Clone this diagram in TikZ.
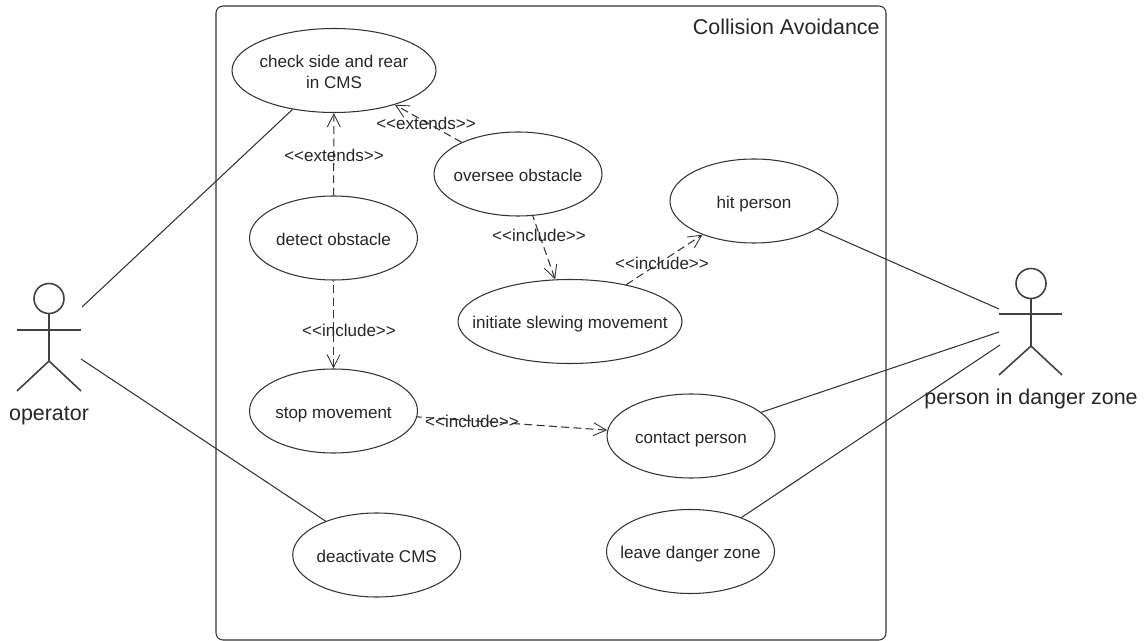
\documentclass[tikz,border=0pt]{standalone}
\usepackage{fontspec}
\setmainfont{Liberation Sans}
\usetikzlibrary{
    arrows.meta,
    shapes.geometric,
}

\begin{document}
\begin{tikzpicture}[x=0.02cm,y=-0.02cm,>={Straight Barb[length=2.6mm,width=2.6mm,line width=0.5pt]}]

    \tikzstyle{commonNode}=[font=\fontsize{9.7}{11.9}\selectfont, align=center, text=black!85]
    \tikzstyle{useCase}=[commonNode, ellipse, draw=black!80, line width=0.6pt, inner xsep=-70pt, inner ysep=0pt, minimum height=84*0.02cm, minimum width=168*0.02cm, text height=10.5pt, text depth=2pt]
    \tikzstyle{stereotype}=[commonNode, inner sep=0pt]
    \tikzstyle{actorName}=[font=\fontsize{12.2}{14}\selectfont, text=black!85, inner sep=0pt]
    \tikzstyle{actorLine}=[black!75, line width=0.9pt]
    \tikzstyle{head}=[circle, draw=black!75, line width=0.9pt, inner sep=0pt, minimum size=30*0.02cm]
    \tikzstyle{assoc}=[black!80, line width=0.6pt]
    \tikzstyle{depOut}=[black!80, line width=0.6pt, dash pattern=on 4.5pt off 2.5pt, ->]
    \tikzstyle{depIn}=[depOut, <-]

    \useasboundingbox (0,0) rectangle (1145,641);

    % System boundary
    \node at (880, 27) [anchor=east, font=\fontsize{12.2}{14}\selectfont, text=black!85, inner sep=0pt] (title) {Collision Avoidance};
    \draw[black!80, line width=0.6pt, rounded corners=4pt] (216,6) rectangle (886,640);

    % Actors
    \node at (49, 298.5) [head] (opHead) {};
    \coordinate (opHip) at (49, 361);
    \coordinate (opArmL) at (17, 330);
    \coordinate (opArmR) at (81, 330);
    \coordinate (opFootL) at (17, 391);
    \coordinate (opFootR) at (81, 391);
    \draw[actorLine] (opHead) -- (opHip);
    \draw[actorLine] (opArmL) -- (opArmR);
    \draw[actorLine] (opFootL) -- (opHip) -- (opFootR);
    \node at (49, 415.5) [actorName] (operator) {operator};

    \node at (1031, 283.5) [head] (dzHead) {};
    \coordinate (dzHip) at (1031, 346);
    \coordinate (dzArmL) at (999, 314);
    \coordinate (dzArmR) at (1062, 314);
    \coordinate (dzFootL) at (999, 375);
    \coordinate (dzFootR) at (1062, 375);
    \draw[actorLine] (dzHead) -- (dzHip);
    \draw[actorLine] (dzArmL) -- (dzArmR);
    \draw[actorLine] (dzFootL) -- (dzHip) -- (dzFootR);
    \node at (1031, 399) [actorName] (person) {person in danger zone};

    % Free ends of the associations
    \coordinate (opUp) at (82, 307);
    \coordinate (opDown) at (81, 359);
    \coordinate (dzHit) at (999, 309);
    \coordinate (dzContact) at (999, 332);
    \coordinate (dzLeave) at (1000, 345);

    % Use cases
    \node at (334, 70.5) [useCase, minimum width=204*0.02cm, text height=21pt, text depth=] (check) {check side and rear \\ in CMS}
        edge [assoc] (opUp);
    \node at (518, 174) [useCase] (oversee) {oversee obstacle}
        edge [depOut] (check);
    \node at (333.5, 238) [useCase] (detect) {detect obstacle}
        edge [depOut] (check);
    \node at (754, 201) [useCase] (hit) {hit person}
        edge [assoc] (dzHit);
    \node at (570, 321.5) [useCase, minimum width=224*0.02cm] (initiate) {initiate slewing movement}
        edge [depIn] (oversee)
        edge [depOut] (hit);
    \node at (333.5, 411) [useCase] (stop) {stop movement}
        edge [depIn] (detect);
    \node at (691, 436) [useCase] (contact) {contact person}
        edge [depIn] (stop)
        edge [assoc] (dzContact);
    \node at (690.5, 551.5) [useCase] (leave) {leave danger zone}
        edge [assoc] (dzLeave);
    \node at (376.7, 555) [useCase] (deactivate) {deactivate CMS}
        edge [assoc] (opDown);

    % Stereotypes
    \node at (334, 155) [stereotype] (extDetect) {<{}<extends>{}>};
    \node at (426, 123) [stereotype] (extOversee) {<{}<extends>{}>};
    \node at (539, 235) [stereotype] (incOversee) {<{}<include>{}>};
    \node at (662, 263) [stereotype] (incInitiate) {<{}<include>{}>};
    \node at (349, 330) [stereotype] (incDetect) {<{}<include>{}>};
    \node at (472, 421) [stereotype] (incStop) {<{}<include>{}>};

\end{tikzpicture}
\end{document}
